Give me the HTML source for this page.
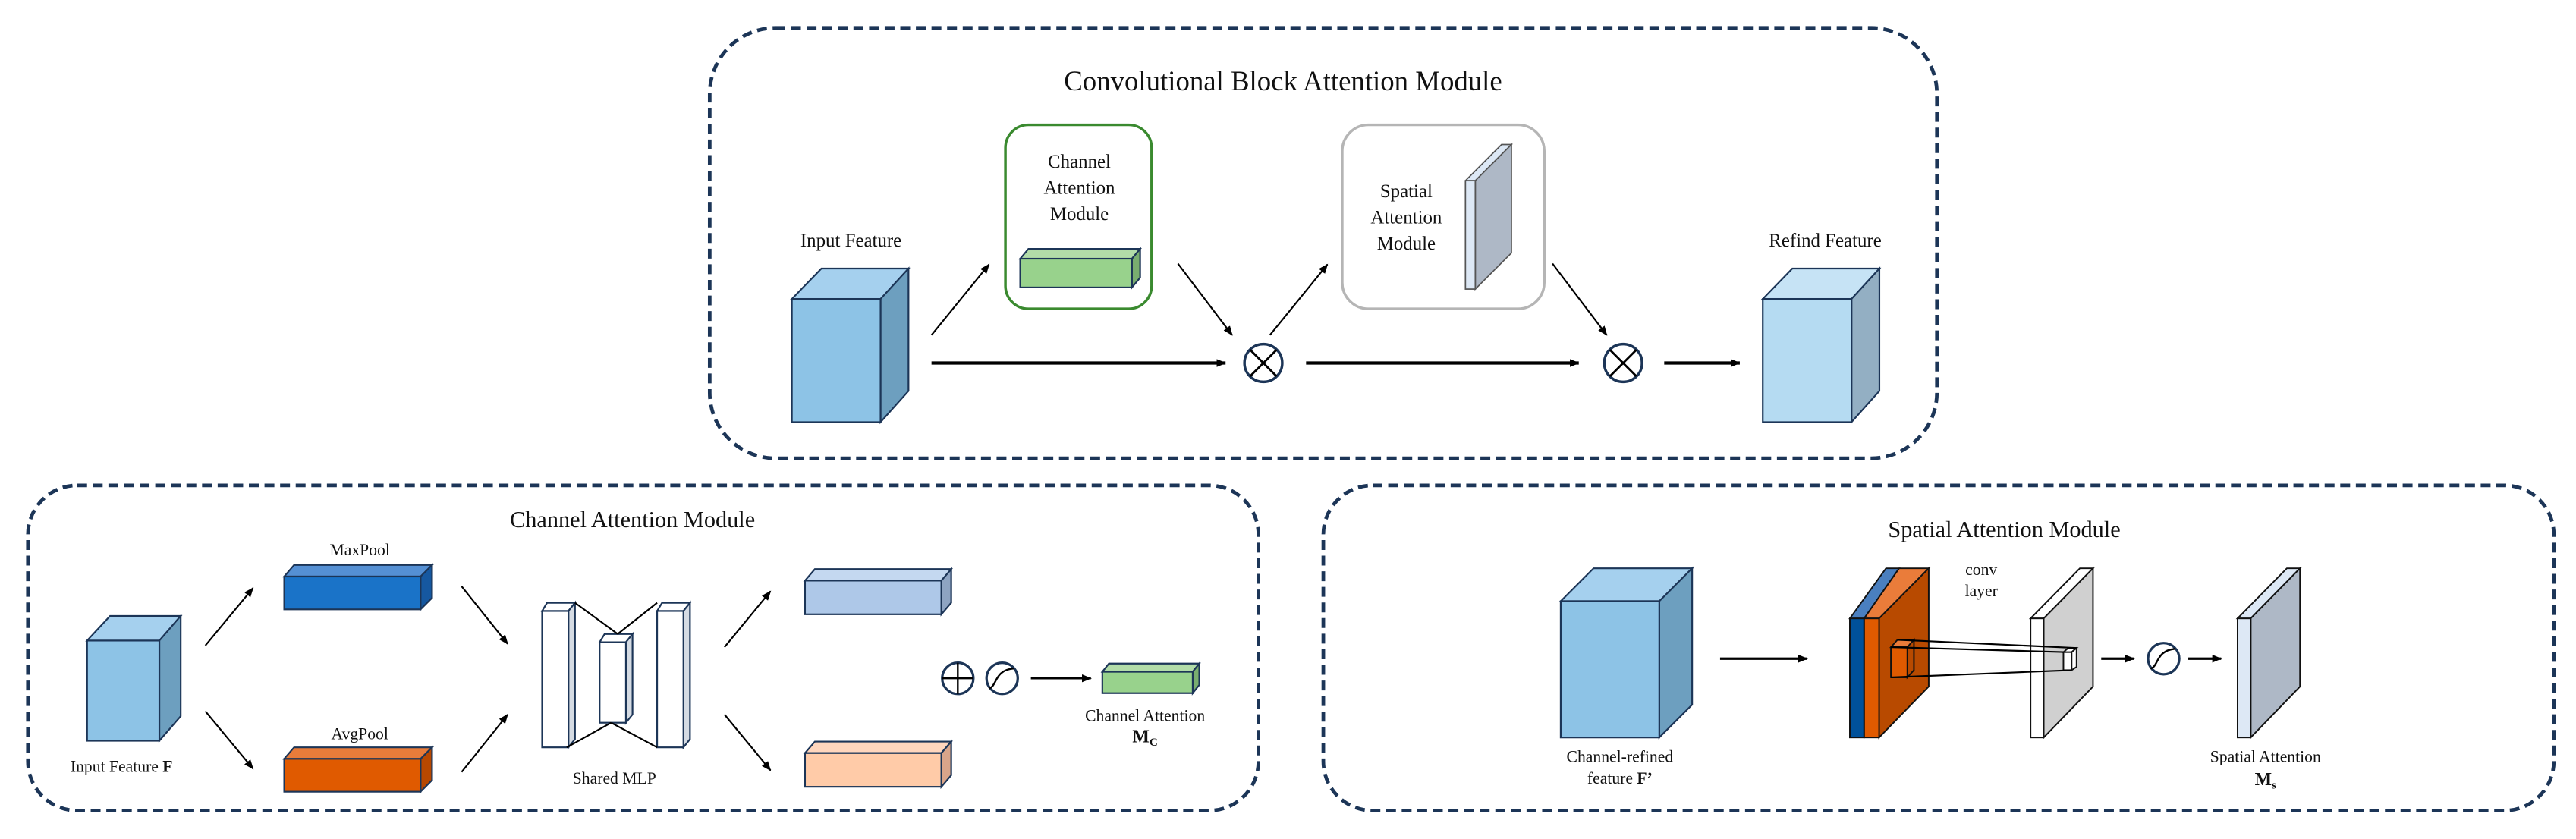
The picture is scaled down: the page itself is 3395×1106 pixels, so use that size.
<!DOCTYPE html>
<html><head><meta charset="utf-8"><style>
html,body{margin:0;padding:0;background:#fff;}
svg{display:block;}
text{font-family:"Liberation Serif",serif;fill:#111;}
</style></head><body>
<svg width="3395" height="1106" viewBox="0 0 1568 510.8" preserveAspectRatio="none" xmlns="http://www.w3.org/2000/svg">
<defs>
<marker id="ah" viewBox="0 0 10 10" refX="9" refY="5" markerWidth="6" markerHeight="6" orient="auto" markerUnits="userSpaceOnUse"><path d="M0,1 L10,5 L0,9 z" fill="#000"/></marker>
</defs>
<g fill="none" stroke="#1c3557" stroke-width="2.2" stroke-dasharray="6 3.5">
<rect x="432" y="17" width="747" height="262" rx="40"/>
<rect x="17" y="295.5" width="749" height="198" rx="30"/>
<rect x="805.5" y="295.5" width="749" height="198" rx="30"/>
</g>

<!-- Top -->
<text x="781" y="55" font-size="17" text-anchor="middle">Convolutional Block Attention Module</text>
<text x="518" y="150" font-size="11.5" text-anchor="middle">Input Feature</text>
<g stroke="#1c3557" stroke-width="1">
<polygon points="482,182 500,163.5 553,163.5 536,182" fill="#a5d0ee"/>
<polygon points="536,182 553,163.5 553,238 536,257" fill="#6d9fbf"/>
<rect x="482" y="182" width="54" height="75" fill="#8dc3e6"/>
</g>
<rect x="612" y="76" width="89" height="112" rx="14" fill="#fff" stroke="#3a8a2f" stroke-width="1.6"/>
<text font-size="11.5" text-anchor="middle"><tspan x="657" y="102">Channel</tspan><tspan x="657" y="118">Attention</tspan><tspan x="657" y="134">Module</tspan></text>
<g stroke="#1c3557" stroke-width="1">
<polygon points="621,157.5 626,151.5 694,151.5 689,157.5" fill="#b2dca8"/>
<polygon points="689,157.5 694,151.5 694,169 689,175" fill="#79ad6f"/>
<rect x="621" y="157.5" width="68" height="17.5" fill="#98d28c"/>
</g>
<rect x="817" y="76" width="123" height="112" rx="16" fill="#fff" stroke="#b5b5b5" stroke-width="1.6"/>
<text font-size="11.5" text-anchor="middle"><tspan x="856" y="120">Spatial</tspan><tspan x="856" y="136">Attention</tspan><tspan x="856" y="152">Module</tspan></text>
<g stroke="#555" stroke-width="0.8">
<polygon points="892,110 914,88 920,88 898,110" fill="#dde8f5"/>
<polygon points="898,110 920,88 920,154 898,176" fill="#aeb8c6"/>
<rect x="892" y="110" width="6" height="66" fill="#dde8f5"/>
</g>
<text x="1111" y="150" font-size="11.5" text-anchor="middle">Refind Feature</text>
<g stroke="#1c3557" stroke-width="1">
<polygon points="1073,182 1091,163.5 1144,163.5 1127,182" fill="#c6e3f5"/>
<polygon points="1127,182 1144,163.5 1144,238 1127,257" fill="#93afc3"/>
<rect x="1073" y="182" width="54" height="75" fill="#b5dbf2"/>
</g>
<g stroke="#000" stroke-width="1" marker-end="url(#ah)">
<line x1="567" y1="204" x2="602" y2="161"/>
<line x1="717" y1="160.5" x2="750" y2="204"/>
<line x1="773" y1="204" x2="808" y2="161"/>
<line x1="945" y1="160.5" x2="978" y2="204"/>
</g>
<g stroke="#000" stroke-width="2" marker-end="url(#ah)">
<line x1="567" y1="221" x2="746" y2="221"/>
<line x1="795" y1="221" x2="961" y2="221"/>
<line x1="1013" y1="221" x2="1059" y2="221"/>
</g>
<g fill="#fff" stroke="#1c3557" stroke-width="1.6">
<circle cx="769" cy="221" r="11.5"/><circle cx="988" cy="221" r="11.5"/>
</g>
<g stroke="#000" stroke-width="1.3">
<line x1="761" y1="213" x2="777" y2="229"/><line x1="777" y1="213" x2="761" y2="229"/>
<line x1="980" y1="213" x2="996" y2="229"/><line x1="996" y1="213" x2="980" y2="229"/>
</g>

<!-- Bottom left -->
<text x="385" y="321" font-size="14" text-anchor="middle">Channel Attention Module</text>
<g stroke="#1c3557" stroke-width="1">
<polygon points="53,390 67,375 110,375 97,390" fill="#a5d0ee"/>
<polygon points="97,390 110,375 110,436 97,451" fill="#6d9fbf"/>
<rect x="53" y="390" width="44" height="61" fill="#8dc3e6"/>
</g>
<text x="74" y="470" font-size="10" text-anchor="middle">Input Feature <tspan font-weight="bold">F</tspan></text>
<text x="219" y="338" font-size="10" text-anchor="middle">MaxPool</text>
<g stroke="#1c3557" stroke-width="1">
<polygon points="173,351 179,344 263,344 256,351" fill="#5590d4"/>
<polygon points="256,351 263,344 263,364 256,371" fill="#1658a0"/>
<rect x="173" y="351" width="83" height="20" fill="#1a73c8"/>
</g>
<text x="219" y="450" font-size="10" text-anchor="middle">AvgPool</text>
<g stroke="#1c3557" stroke-width="1">
<polygon points="173,462 179,455 263,455 256,462" fill="#e87c3a"/>
<polygon points="256,462 263,455 263,475 256,482" fill="#b84800"/>
<rect x="173" y="462" width="83" height="20" fill="#e05a00"/>
</g>
<g stroke="#000" stroke-width="1" marker-end="url(#ah)">
<line x1="125" y1="393" x2="154" y2="358"/>
<line x1="125" y1="433" x2="154" y2="468"/>
<line x1="281" y1="357" x2="309" y2="392"/>
<line x1="281" y1="470" x2="309" y2="435"/>
<line x1="441" y1="394" x2="469" y2="360"/>
<line x1="441" y1="435" x2="469" y2="469"/>
</g>
<!-- MLP -->
<g stroke="#1c3557" stroke-width="1">
<polygon points="330,372 333,367 350,367 346,372" fill="#fff"/>
<polygon points="346,372 350,367 350,450 346,455" fill="#d5dbe3"/>
<rect x="330" y="372" width="16" height="83" fill="#fff"/>
<polygon points="365,391 368,386 385,386 381,391" fill="#fff"/>
<polygon points="381,391 385,386 385,435 381,440" fill="#d5dbe3"/>
<rect x="365" y="391" width="16" height="49" fill="#fff"/>
<polygon points="400,372 403,367 420,367 416,372" fill="#fff"/>
<polygon points="416,372 420,367 420,450 416,455" fill="#d5dbe3"/>
<rect x="400" y="372" width="16" height="83" fill="#fff"/>
</g>
<g stroke="#000" stroke-width="1">
<line x1="350" y1="367" x2="376" y2="386"/><line x1="400" y1="367" x2="376" y2="386"/>
<line x1="345" y1="455" x2="372" y2="440"/><line x1="400" y1="455" x2="372" y2="440"/>
</g>
<text x="374" y="477" font-size="10" text-anchor="middle">Shared MLP</text>
<g stroke="#1c3557" stroke-width="1">
<polygon points="490,353.5 496,346.5 579,346.5 573,353.5" fill="#c4d8f0"/>
<polygon points="573,353.5 579,346.5 579,367 573,374" fill="#8ea4c2"/>
<rect x="490" y="353.5" width="83" height="20.5" fill="#aec8e8"/>
<polygon points="490,458.5 496,451.5 579,451.5 573,458.5" fill="#ffd6bd"/>
<polygon points="573,458.5 579,451.5 579,472 573,479" fill="#d9a58a"/>
<rect x="490" y="458.5" width="83" height="20.5" fill="#ffcba8"/>
</g>
<g fill="#fff" stroke="#1c3557" stroke-width="1.5">
<circle cx="583" cy="413" r="9.5"/><circle cx="610" cy="413" r="9.5"/>
</g>
<g stroke="#000" stroke-width="1.1" fill="none">
<line x1="573.5" y1="413" x2="592.5" y2="413"/><line x1="583" y1="403.5" x2="583" y2="422.5"/>
<path d="M602,419 C607,418 605,408 617,407"/>
</g>
<line x1="627.5" y1="413" x2="664" y2="413" stroke="#000" stroke-width="1.2" marker-end="url(#ah)"/>
<g stroke="#1c3557" stroke-width="1">
<polygon points="671,409 675,404 730,404 726,409" fill="#b2dca8"/>
<polygon points="726,409 730,404 730,417 726,422" fill="#79ad6f"/>
<rect x="671" y="409" width="55" height="13" fill="#98d28c"/>
</g>
<text x="697" y="439" font-size="10" text-anchor="middle">Channel Attention</text>
<text x="697" y="452" font-size="11" text-anchor="middle" font-weight="bold">M<tspan font-size="7" dy="2">C</tspan></text>

<!-- Bottom right -->
<text x="1220" y="327" font-size="14" text-anchor="middle">Spatial Attention Module</text>
<g stroke="#1c3557" stroke-width="1">
<polygon points="950,366 970,346 1030,346 1010,366" fill="#a5d0ee"/>
<polygon points="1010,366 1030,346 1030,429 1010,449" fill="#6d9fbf"/>
<rect x="950" y="366" width="60" height="83" fill="#8dc3e6"/>
</g>
<text font-size="10" text-anchor="middle"><tspan x="986" y="464">Channel-refined</tspan><tspan x="986" y="477">feature <tspan font-weight="bold">F’</tspan></tspan></text>
<line x1="1047" y1="401" x2="1100" y2="401" stroke="#000" stroke-width="1.5" marker-end="url(#ah)"/>
<g stroke="#111" stroke-width="0.9">
<polygon points="1126,376.5 1148,346 1156,346 1134.7,376.5" fill="#4a7fbf"/>
<polygon points="1134.7,376.5 1156,346 1174,346 1143.8,376.5" fill="#ea7c3a"/>
<polygon points="1143.8,376.5 1174,346 1174,418 1143.8,449" fill="#b84a00"/>
<rect x="1126" y="376.5" width="8.7" height="72.5" fill="#00519a"/>
<rect x="1134.7" y="376.5" width="9.1" height="72.5" fill="#e05a00"/>
<polygon points="1236,376.5 1266,346 1274,346 1244,376.5" fill="#fff"/>
<polygon points="1244,376.5 1274,346 1274,418 1244,449" fill="#d0d0d0"/>
<rect x="1236" y="376.5" width="8" height="72.5" fill="#fff"/>
</g>
<g stroke="#111" stroke-width="0.9">
<polygon points="1151,394 1155,389.5 1165,389.5 1161,394" fill="#ea7c3a"/>
<polygon points="1161,394 1165,389.5 1165,408 1161,412.4" fill="#b84a00"/>
<rect x="1151" y="394" width="10" height="18.4" fill="#e05a00"/>
<rect x="1256" y="397" width="5" height="11" fill="#fff"/>
<polygon points="1256,397 1259,394.5 1264,394.5 1261,397" fill="#fff"/>
<polygon points="1261,397 1264,394.5 1264,406 1261,408" fill="#fff"/>
</g>
<g stroke="#000" stroke-width="1" fill="none">
<line x1="1155" y1="389.5" x2="1264" y2="394.5"/>
<line x1="1151" y1="394" x2="1256" y2="397"/>
<line x1="1151" y1="412.4" x2="1261" y2="408"/>
</g>
<text font-size="10" text-anchor="middle"><tspan x="1206" y="350">conv</tspan><tspan x="1206" y="363">layer</tspan></text>
<line x1="1279" y1="401" x2="1299" y2="401" stroke="#000" stroke-width="1.5" marker-end="url(#ah)"/>
<circle cx="1317" cy="401" r="9.5" fill="#fff" stroke="#1c3557" stroke-width="1.5"/>
<path d="M1309,407 C1314,406 1312,396 1324,395" fill="none" stroke="#000" stroke-width="1.1"/>
<line x1="1332" y1="401" x2="1352" y2="401" stroke="#000" stroke-width="1.5" marker-end="url(#ah)"/>
<g stroke="#111" stroke-width="0.9">
<polygon points="1362,376.5 1392,346 1400,346 1370,376.5" fill="#dde8f5"/>
<polygon points="1370,376.5 1400,346 1400,418 1370,449" fill="#aeb8c6"/>
<rect x="1362" y="376.5" width="8" height="72.5" fill="#dde8f5"/>
</g>
<text x="1379" y="464" font-size="10" text-anchor="middle">Spatial Attention</text>
<text x="1379" y="478" font-size="11" text-anchor="middle" font-weight="bold">M<tspan font-size="7" dy="2">s</tspan></text>
</svg>
</body></html>
